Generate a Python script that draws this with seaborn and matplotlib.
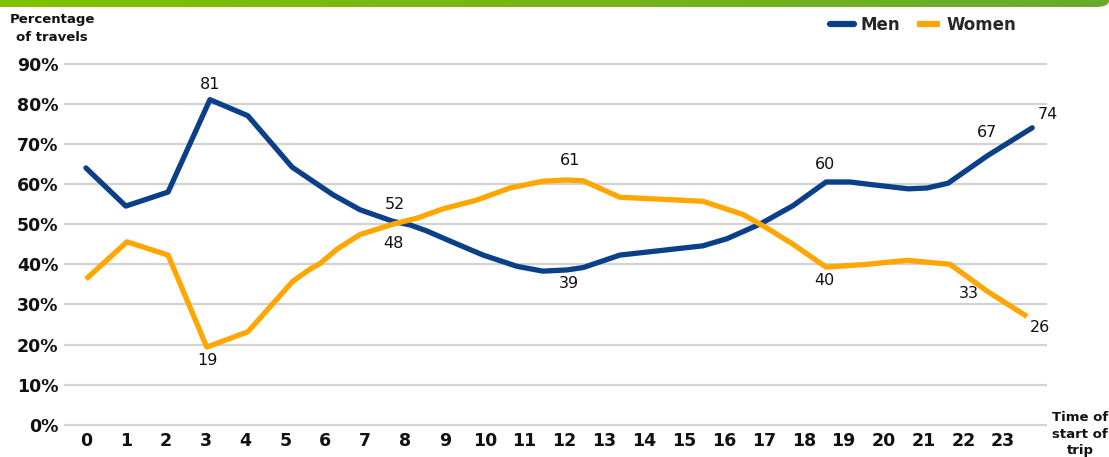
import numpy as np
import pandas as pd
import matplotlib
matplotlib.use("Agg")
import matplotlib.pyplot as plt
import seaborn as sns
from matplotlib.patches import FancyBboxPatch

# data (hour of trip start, % of travels)
men_hours = [0.0, 1.0, 2.06, 3.11, 4.06, 5.17, 5.87, 6.2, 6.87, 7.7, 8.13, 8.55, 9.13, 9.96,
             10.81, 11.46, 12.06, 12.47, 13.39, 15.47, 16.08, 16.9, 17.73, 18.56, 19.16,
             19.74, 20.62, 21.09, 21.62, 22.6, 23.73]
men_pct = [64, 54.5, 58, 81, 77, 64.2, 59.5, 57.3, 53.6, 50.7, 49.8, 48.3, 45.8, 42.3,
           39.5, 38.3, 38.6, 39.2, 42.3, 44.6, 46.4, 50, 54.6, 60.5, 60.5,
           59.8, 58.8, 59, 60.2, 67, 74]
women_hours = [0.0, 1.03, 2.06, 3.03, 4.06, 5.19, 5.62, 5.87, 6.3, 6.87, 7.7, 8.3, 8.95, 9.8,
               10.63, 11.46, 12.06, 12.47, 13.39, 15.47, 16.48, 17.08, 17.73, 18.56, 19.59,
               20.59, 21.67, 22.6, 23.6]
women_pct = [36.3, 45.6, 42.3, 19.4, 23.2, 35.8, 38.8, 40.2, 43.8, 47.4, 50, 51.5, 53.8, 56,
             59, 60.7, 61, 60.8, 56.7, 55.7, 52.4, 49, 45, 39.3, 40,
             41, 40, 33.3, 27]
hour_ticks = list(range(24))
pct_ticks = list(range(0, 100, 10))

# value labels: (point index, text, dx px, dy px)
men_labels = [(3, "81", 0, 15), (9, "52", 2, 17), (16, "39", 2, -14),
              (23, "60", -1, 17), (29, "67", 0, 23), (30, "74", 16, 13)]
women_labels = [(3, "19", 1, -13), (10, "48", 0, -19), (16, "61", 3, 19),
                (23, "40", -2, -13), (27, "33", -18, -2), (28, "26", 13, -11)]

men_color = "#0b4088"
women_color = "#ffa600"

df = pd.concat([
    pd.DataFrame({"hour": men_hours, "pct": men_pct, "group": "Men"}),
    pd.DataFrame({"hour": women_hours, "pct": women_pct, "group": "Women"}),
])

sns.set_style("white")
plt.rcParams['font.family'] = ['DejaVu Sans']

fig = plt.figure(figsize=(11.09, 4.57), dpi=100)
ax = fig.add_axes([0.0577, 0.0613, 0.8864, 0.8085])

sns.lineplot(data=df, x="hour", y="pct", hue="group", sort=False,
             palette={"Men": men_color, "Women": women_color},
             linewidth=3.8, ax=ax, legend=False)
ax.lines[0].set_solid_capstyle("round")
ax.lines[0].set_solid_joinstyle("round")
ax.lines[1].set_solid_capstyle("butt")
ax.lines[1].set_solid_joinstyle("round")

ax.set_xlim(-0.55, 24.1)
ax.set_ylim(-1, 91)
ax.set_xticks(hour_ticks)
ax.set_xticklabels([str(h) for h in hour_ticks], fontsize=12.5, fontweight="bold")
ax.set_yticks(pct_ticks)
ax.set_yticklabels([f"{p}%" for p in pct_ticks], fontsize=12.5, fontweight="bold")
ax.tick_params(axis="both", length=0, colors="#111111")
ax.tick_params(axis="x", pad=2)
ax.tick_params(axis="y", pad=4)
ax.yaxis.grid(True, color="#d2d2d2", linewidth=1.6)
ax.xaxis.grid(False)
ax.set_axisbelow(True)
for s in ax.spines.values():
    s.set_visible(False)
ax.set_xlabel("")
ax.set_ylabel("")

for idx, txt, dx, dy in men_labels:
    ax.annotate(txt, (men_hours[idx], men_pct[idx]), xytext=(dx, dy),
                textcoords="offset pixels", ha="center", va="center",
                fontsize=11.5, color="#111111")
for idx, txt, dx, dy in women_labels:
    ax.annotate(txt, (women_hours[idx], women_pct[idx]), xytext=(dx, dy),
                textcoords="offset pixels", ha="center", va="center",
                fontsize=11.5, color="#111111")

# legend
handles = [plt.Line2D([], [], color=men_color, lw=4.5, solid_capstyle="round"),
           plt.Line2D([], [], color=women_color, lw=4.5, solid_capstyle="butt")]
fig.legend(handles, ["Men", "Women"], loc="center right", bbox_to_anchor=(0.93, 0.945),
           ncol=2, frameon=False, handlelength=1.4, handletextpad=0.4,
           columnspacing=1.0, prop={"weight": "bold", "size": 12})

# axis titles
fig.text(0.047, 0.937, "Percentage\nof travels", ha="center", va="center",
         fontsize=9.5, fontweight="bold", linespacing=1.5, color="#111111")
fig.text(0.974, 0.05, "Time of\nstart of\ntrip", ha="center", va="center",
         fontsize=9.5, fontweight="bold", linespacing=1.35, color="#111111")

# green header strip
bar_ax = fig.add_axes([0, 1 - 7 / 457, 1, 7 / 457])
grad = np.linspace(0, 1, 256).reshape(1, -1)
cmap = matplotlib.colors.LinearSegmentedColormap.from_list("g", ["#82c200", "#6aaa2c"])
im = bar_ax.imshow(grad, aspect="auto", cmap=cmap, extent=(0, 1, 0, 1))
clip = FancyBboxPatch((-0.1, 0.0), 1.1, 2.0,
                      boxstyle="round,pad=0,rounding_size=0.012",
                      transform=bar_ax.transAxes, facecolor="none", edgecolor="none",
                      mutation_aspect=1 / 0.012 * 0.9)
bar_ax.add_patch(clip)
im.set_clip_path(clip)
bar_ax.set_xlim(0, 1)
bar_ax.set_ylim(0, 1)
bar_ax.axis("off")

fig.savefig("out.png", dpi=100)
